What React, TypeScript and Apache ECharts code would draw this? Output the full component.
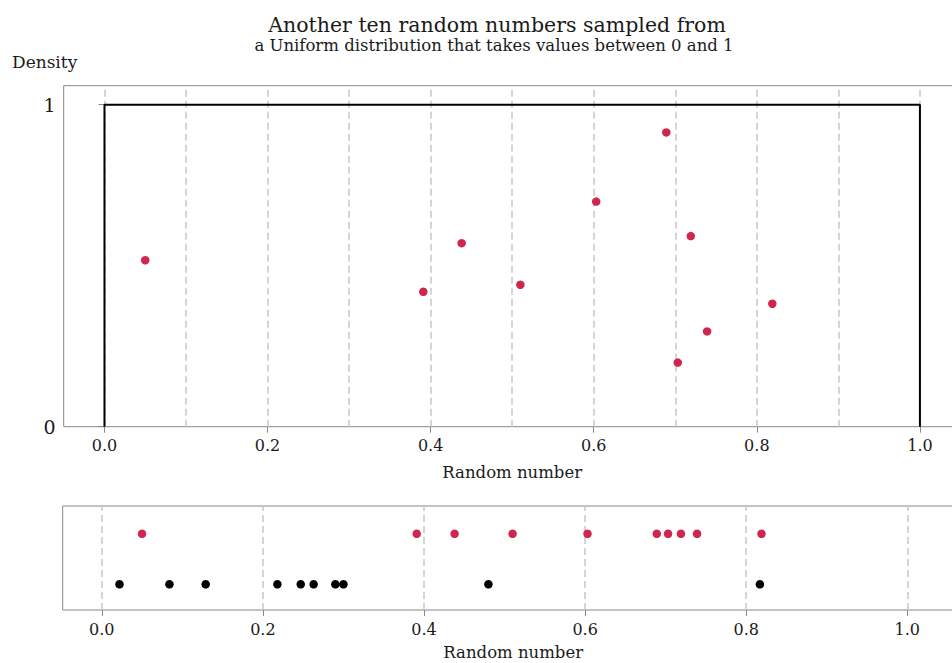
import React, { useEffect, useRef } from "react";
import * as echarts from "echarts";

// ---- data ----
const titleText = "Another ten random numbers sampled from";
const subtitleText = "a Uniform distribution that takes values between 0 and 1";
const yAxisTitle = "Density";
const xAxisTitle = "Random number";

// the ten new random numbers (red)
const sampleValues = [0.05, 0.391, 0.438, 0.51, 0.603, 0.689, 0.703, 0.719, 0.739, 0.819];
// vertical jitter of the red points in the top panel
const sampleJitter = [0.517, 0.419, 0.57, 0.441, 0.699, 0.914, 0.199, 0.592, 0.296, 0.382];
// the previous ten random numbers (black)
const previousValues = [0.022, 0.084, 0.129, 0.218, 0.247, 0.263, 0.29, 0.3, 0.48, 0.817];

// uniform density outline
const densityX = [0, 0, 1, 1];
const densityY = [0, 1, 1, 0];

const xTickValues = [0, 0.2, 0.4, 0.6, 0.8, 1.0];
const topGridValues = [0, 0.1, 0.2, 0.3, 0.4, 0.5, 0.6, 0.7, 0.8, 0.9, 1.0];
const bottomGridValues = [0, 0.2, 0.4, 0.6, 0.8, 1.0];
const yTickValues = [0, 1];

// row positions in the bottom strip
const rowNew = 2;
const rowPrevious = 1;

const FONT = "'DejaVu Serif', serif";
const RED = "#d0264e";
const GRAY = "#888888";
const GRID_GRAY = "#c8c8c8";
const TEXT = "#1a1a1a";

export default function App() {
  const ref = useRef<HTMLDivElement>(null);

  useEffect(() => {
    if (!ref.current) return;
    const chart = echarts.init(ref.current, undefined, { renderer: "svg" });

    const xAxisCommon = (gridIndex: number, min: number, max: number, nameGap: number) => ({
      type: "value",
      gridIndex,
      min,
      max,
      axisLine: { show: false },
      splitLine: { show: false },
      axisTick: {
        show: true,
        customValues: xTickValues,
        length: 6,
        lineStyle: { color: GRAY, width: 1 },
      },
      axisLabel: {
        customValues: xTickValues,
        formatter: (v: number) => v.toFixed(1),
        fontFamily: FONT,
        fontSize: 16,
        color: TEXT,
        margin: 11,
      },
      name: xAxisTitle,
      nameLocation: "middle",
      nameGap,
      nameTextStyle: { fontFamily: FONT, fontSize: 16.5, color: TEXT },
    });

    const gridLineStyle = { color: GRID_GRAY, type: [7, 4], width: 1.5 };

    chart.setOption({
      animation: false,
      backgroundColor: "#ffffff",
      grid: [
        { left: 63.7, top: 85.7, width: 897, height: 341, show: true, borderColor: GRAY, borderWidth: 1 },
        { left: 62.7, top: 506, width: 901, height: 104, show: true, borderColor: GRAY, borderWidth: 1 },
      ],
      xAxis: [xAxisCommon(0, -0.05, 1.05, 37), xAxisCommon(1, -0.0485, 1.07, 34)],
      yAxis: [
        {
          type: "value",
          gridIndex: 0,
          min: 0,
          max: 1.059,
          axisLine: { show: false },
          splitLine: { show: false },
          axisTick: { show: true, customValues: yTickValues, length: 6, lineStyle: { color: GRAY, width: 1 } },
          axisLabel: {
            customValues: yTickValues,
            fontFamily: FONT,
            fontSize: 19,
            color: TEXT,
            margin: 8,
          },
        },
        {
          type: "value",
          gridIndex: 1,
          min: 0.49,
          max: 2.55,
          axisLine: { show: false },
          splitLine: { show: false },
          axisTick: { show: false },
          axisLabel: { show: false },
        },
      ],
      graphic: [
        {
          type: "text",
          x: 497,
          y: 24.5,
          style: { text: titleText, font: `20.5px ${FONT}`, fill: TEXT, align: "center", verticalAlign: "middle" },
        },
        {
          type: "text",
          x: 494,
          y: 45,
          style: { text: subtitleText, font: `16.5px ${FONT}`, fill: TEXT, align: "center", verticalAlign: "middle" },
        },
        {
          type: "text",
          x: 12,
          y: 62,
          style: { text: yAxisTitle, font: `17px ${FONT}`, fill: TEXT, align: "left", verticalAlign: "middle" },
        },
      ],
      series: [
        {
          type: "line",
          xAxisIndex: 0,
          yAxisIndex: 0,
          data: [[0, 0]],
          showSymbol: false,
          symbol: "none",
          lineStyle: { opacity: 0 },
          silent: true,
          z: 1,
          markLine: {
            z: 1,
            silent: true,
            symbol: ["none", "none"],
            label: { show: false },
            lineStyle: gridLineStyle,
            data: topGridValues.map((v) => ({ xAxis: v })),
          },
        },
        {
          type: "line",
          xAxisIndex: 0,
          yAxisIndex: 0,
          data: densityX.map((x, i) => [x, densityY[i]]),
          symbol: "none",
          lineStyle: { color: "#000000", width: 2 },
          z: 4,
        },
        {
          type: "scatter",
          xAxisIndex: 0,
          yAxisIndex: 0,
          data: sampleValues.map((x, i) => [x, sampleJitter[i]]),
          symbolSize: 8.5,
          itemStyle: { color: RED, opacity: 1 },
          z: 5,
        },
        {
          type: "line",
          xAxisIndex: 1,
          yAxisIndex: 1,
          data: [[0, 1]],
          showSymbol: false,
          symbol: "none",
          lineStyle: { opacity: 0 },
          silent: true,
          z: 1,
          markLine: {
            z: 1,
            silent: true,
            symbol: ["none", "none"],
            label: { show: false },
            lineStyle: gridLineStyle,
            data: bottomGridValues.map((v) => ({ xAxis: v })),
          },
        },
        {
          type: "scatter",
          xAxisIndex: 1,
          yAxisIndex: 1,
          data: sampleValues.map((x) => [x, rowNew]),
          symbolSize: 8.5,
          itemStyle: { color: RED, opacity: 1 },
          z: 5,
        },
        {
          type: "scatter",
          xAxisIndex: 1,
          yAxisIndex: 1,
          data: previousValues.map((x) => [x, rowPrevious]),
          symbolSize: 8.5,
          itemStyle: { color: "#000000", opacity: 1 },
          z: 5,
        },
      ],
    });

    return () => chart.dispose();
  }, []);

  return (
    <div
      style={{ position: "absolute", left: 0, top: 0, width: 952, height: 663, overflow: "hidden", background: "#fff" }}
    >
      <div ref={ref} style={{ position: "absolute", left: 0, top: 0, width: 990, height: 663 }} />
    </div>
  );
}
